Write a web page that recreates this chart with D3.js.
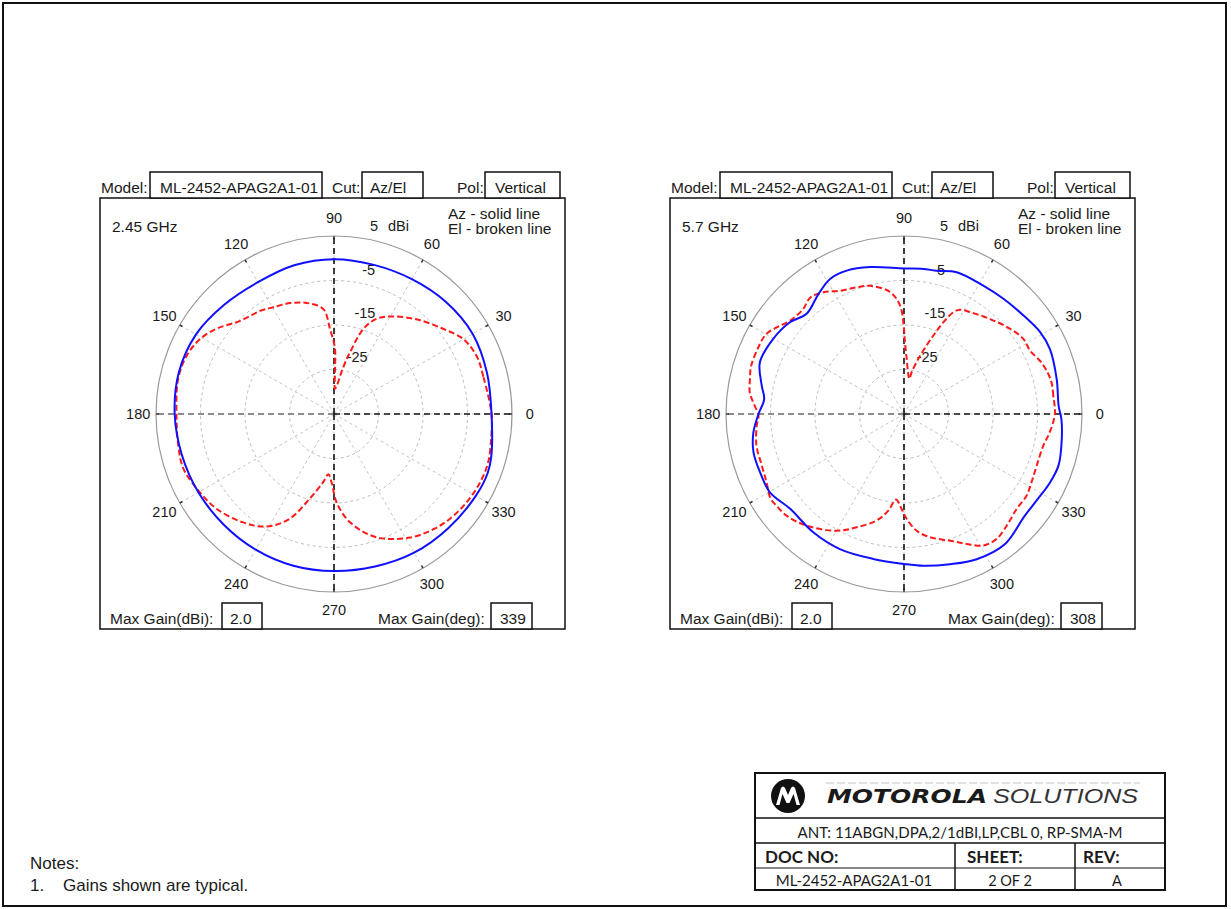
<!DOCTYPE html>
<html>
<head>
<meta charset="utf-8">
<script src="https://cdn.jsdelivr.net/npm/d3@7"></script>
<style>
  body { margin: 0; background: #fff; }
  text { font-family: "Liberation Sans", Arial, sans-serif; fill: #1a1a1a; }
  .calibri { font-family: Lato, "Open Sans", sans-serif; }
</style>
</head>
<body>
<svg id="page" width="1231" height="909"></svg>
<script>
// ---- data ----
const a_angle_ticks = [0, 30, 60, 90, 120, 150, 180, 210, 240, 270, 300, 330];
const a_ring_levels = [-25, -15, -5, 5];

// 2.45 GHz, azimuth (solid)
const a_az_245_deg = [0, 15, 30, 45, 60, 75, 90, 105, 120, 135, 150, 165, 180, 195, 210, 225, 240, 255, 270, 285, 300, 315, 330, 339, 345];
const a_az_245_dbi = [0.4, 0.6, 1.0, 0.6, 0.0, -0.3, -0.2, -0.4, -0.8, -0.2, 0.8, 1.1, 0.8, 0.4, 0.2, 0.1, 0.2, 0.3, 0.3, 0.5, 1.0, 1.3, 1.8, 2.0, 1.6];
// 2.45 GHz, elevation (broken)
const a_el_245_deg = [0, 14, 22, 30, 38, 49, 60, 66, 71, 75.5, 77, 80, 84, 87.8, 88.6, 89.3, 92.7, 95.8, 103.8, 111.6, 119.6, 125.6, 135.2, 144, 150.8, 158.4, 167.3, 180.6, 191.5, 200, 210.3, 219, 230, 239, 247, 254, 261, 264.6, 268, 271.7, 278.4, 289, 301.6, 310.8, 317.8, 326.3, 334.9, 342.6, 352];
const a_el_245_dbi = [0.4, -0.4, -0.4, -1.4, -3.9, -6.8, -9.7, -11.6, -14.8, -20.7, -22.3, -25.5, -28.5, -29.3, -25, -20, -15.9, -11.3, -9.3, -8.2, -7.4, -6.5, -5.3, -2.4, -0.5, 0.6, 0.9, 0.4, 0.7, 1.0, -0.1, -1.1, -3.2, -5.5, -9.4, -15.2, -19.5, -21.4, -19.6, -15.1, -10.4, -5.7, -2.4, -0.8, 0.1, 0.8, 1.25, 1.3, 0.7];

// 5.7 GHz, azimuth (solid)
const a_az_57_deg = [3, 12.9, 24, 31, 39.5, 49.2, 58.3, 69.6, 77.2, 82.4, 90, 103, 111.8, 118.7, 125.5, 134.2, 141.2, 150.1, 160.3, 168.7, 173.9, 180, 187, 194.3, 202, 210.3, 219.8, 232.5, 244.6, 258, 270, 277.3, 287, 296.6, 308, 319.6, 327.4, 334.9, 341.7, 351, 358];
const a_az_57_dbi = [-0.2, 0.2, 0.9, 0.7, -0.2, -0.8, -1.1, -1.0, -2.0, -2.1, -2.3, -1.1, -0.3, -0.4, -1.9, -3.6, -2.1, -1.1, -0.6, -2.4, -3.4, -2.3, -0.9, -0.1, -0.1, -0.1, -1.7, -1.5, -1.4, -1.7, -1.3, -0.6, 0.3, 1.5, 2.0, 0.5, 0.6, 1.25, 1.6, 0.9, 0.4];
// 5.7 GHz, elevation (broken)
const a_el_57_deg = [0, 7, 12.1, 16.9, 21.4, 26.7, 32.1, 38.7, 47.8, 57, 61.8, 64.1, 66.8, 69.6, 74.6, 79.6, 81.4, 87.2, 89.2, 90.2, 92, 96.5, 104.8, 110.5, 117.4, 123.5, 128.9, 133.8, 140.7, 145.8, 150, 155, 162.6, 167.2, 172, 175.6, 180.6, 184.5, 192, 200, 206.5, 212.4, 215.7, 220.9, 228.9, 240, 247.3, 255.6, 260.8, 264.7, 268.6, 271.5, 276.2, 281.9, 290, 295.7, 301, 306.6, 312.6, 319.9, 326.3, 331.8, 338.7, 347.2, 352.8];
const a_el_57_dbi = [-1.1, -1.2, -1.1, -1.5, -2.2, -3.3, -3.3, -4.4, -6.2, -7.7, -8.4, -9.6, -12.6, -16.3, -21.5, -25.4, -27, -22.6, -18.9, -15.2, -10.7, -7.4, -5.2, -4.6, -3.8, -2.2, -1.4, -2.3, -1.9, -0.4, 0.8, 1.0, 1.0, 0.5, 0.0, -1.0, -2.3, -1.8, -1.1, -1.0, -0.5, 0.5, 0.3, -0.1, -1.7, -4.7, -7.4, -10.3, -13, -15.7, -13.6, -11.4, -8.6, -6.7, -4.7, -2.6, -0.5, -0.05, -0.9, -1.9, -1.9, -2.5, -3.0, -2.9, -2.0];

const a_freq_labels = ["2.45 GHz", "5.7 GHz"];
const a_max_gain_dbi = ["2.0", "2.0"];
const a_max_gain_deg = ["339", "308"];

// ---- layout ----
const v_radius = 178;
const d_center = {x: 234, y: 216};      // centre inside the plot frame
const a_frame_x = [100, 670];
const v_frame_y = 198;
const v_frame_w = 465, v_frame_h = 431;
const v_font = 15.5, v_font_num = 14.5;

var svg = d3.select("#page");

// page border
svg.append("rect")
    .attr("x", 3).attr("y", 3)
    .attr("width", 1223).attr("height", 903)
    .attr("fill", "none").attr("stroke", "#111").attr("stroke-width", 2);

// scales
var r_scale = d3.scaleLinear().domain([-35, 5]).range([0, v_radius]);
var a_scale = d3.scaleLinear().domain([0, 360]).range([Math.PI / 2, Math.PI / 2 - 2 * Math.PI]);

var line_polar = d3.lineRadial()
    .angle(function(d) { return a_scale(d[0]); })
    .radius(function(d) { return r_scale(d[1]); })
    .curve(d3.curveCatmullRomClosed.alpha(0.5));

function box(g, x, y, w, h) {
    g.append("rect")
        .attr("x", x).attr("y", y).attr("width", w).attr("height", h)
        .attr("fill", "#fff").attr("stroke", "#111").attr("stroke-width", 1.5);
}

function label(g, x, y, txt, anchor) {
    return g.append("text")
        .attr("x", x).attr("y", y)
        .attr("font-size", v_font)
        .attr("text-anchor", anchor || "start")
        .text(txt);
}

function draw_polar(i, az_deg, az_dbi, el_deg, el_dbi) {
    var x0 = a_frame_x[i];
    var g = svg.append("g").attr("id", "plot_" + i);

    // frame
    g.append("rect")
        .attr("x", x0).attr("y", v_frame_y)
        .attr("width", v_frame_w).attr("height", v_frame_h)
        .attr("fill", "none").attr("stroke", "#111").attr("stroke-width", 1.5);

    // header row
    label(g, x0 + 1, 192.5, "Model:");
    box(g, x0 + 50, 172, 172, 26);
    label(g, x0 + 60, 192.5, "ML-2452-APAG2A1-01");
    label(g, x0 + 232, 192.5, "Cut:");
    box(g, x0 + 262, 172, 61, 26);
    label(g, x0 + 270, 192.5, "Az/El");
    label(g, x0 + 357, 192.5, "Pol:");
    box(g, x0 + 385, 172, 75, 26);
    label(g, x0 + 395, 192.5, "Vertical");

    label(g, x0 + 12, 231.5, a_freq_labels[i]);
    label(g, x0 + 348, 218.5, "Az - solid line");
    label(g, x0 + 348, 233.5, "El - broken line");

    // footer row
    label(g, x0 + 10, 623.5, "Max Gain(dBi):");
    box(g, x0 + 122, 603, 40, 26);
    label(g, x0 + 130, 623.5, a_max_gain_dbi[i]);
    label(g, x0 + 278, 623.5, "Max Gain(deg):");
    box(g, x0 + 391, 603, 41, 26);
    label(g, x0 + 400, 623.5, a_max_gain_deg[i]);

    var p = g.append("g")
        .attr("transform", `translate(${x0 + d_center.x}, ${v_frame_y + d_center.y})`);

    // rings
    p.selectAll(".ring")
        .data(a_ring_levels.slice(0, 3))
        .enter().append("circle")
        .attr("r", function(d) { return r_scale(d); })
        .attr("fill", "none").attr("stroke", "#bdbdbd")
        .attr("stroke-width", 1).attr("stroke-dasharray", "3,3");

    p.append("circle")
        .attr("r", r_scale(5))
        .attr("fill", "none").attr("stroke", "#9a9a9a").attr("stroke-width", 1.2);

    // spokes
    p.selectAll(".spoke")
        .data(a_angle_ticks.filter(function(d) { return d != 180; }))
        .enter().append("line")
        .attr("x1", 0).attr("y1", 0)
        .attr("x2", function(d) { return d3.pointRadial(a_scale(d), v_radius)[0]; })
        .attr("y2", function(d) { return d3.pointRadial(a_scale(d), v_radius)[1]; })
        .attr("stroke", "#c4c4c4").attr("stroke-width", 1).attr("stroke-dasharray", "3,3");

    // 180 spoke is heavier grey
    p.append("line")
        .attr("x1", 0).attr("y1", 0)
        .attr("x2", d3.pointRadial(a_scale(180), v_radius)[0])
        .attr("y2", 0)
        .attr("stroke", "#8c8c8c").attr("stroke-width", 2).attr("stroke-dasharray", "6,4");

    // small ticks on the outer circle
    p.selectAll(".tick")
        .data(a_angle_ticks)
        .enter().append("line")
        .attr("x1", function(d) { return d3.pointRadial(a_scale(d), v_radius - 3)[0]; })
        .attr("y1", function(d) { return d3.pointRadial(a_scale(d), v_radius - 3)[1]; })
        .attr("x2", function(d) { return d3.pointRadial(a_scale(d), v_radius)[0]; })
        .attr("y2", function(d) { return d3.pointRadial(a_scale(d), v_radius)[1]; })
        .attr("stroke", "#333").attr("stroke-width", 1.5);

    // black dashed axes: 0, 90, 270
    [0, 90, 270].forEach(function(d) {
        var pt = d3.pointRadial(a_scale(d), v_radius);
        p.append("line")
            .attr("x1", 0).attr("y1", 0)
            .attr("x2", pt[0]).attr("y2", pt[1])
            .attr("stroke", "#111").attr("stroke-width", 1.6).attr("stroke-dasharray", "6,4");
    });

    // angle labels
    p.selectAll(".alabel")
        .data(a_angle_ticks)
        .enter().append("text")
        .attr("x", function(d) { return d3.pointRadial(a_scale(d), v_radius * 1.1)[0]; })
        .attr("y", function(d) { return d3.pointRadial(a_scale(d), v_radius * 1.1)[1]; })
        .attr("text-anchor", "middle")
        .attr("dominant-baseline", "central")
        .attr("font-size", v_font_num)
        .text(function(d) { return d; });

    // ring labels
    p.selectAll(".rlabel")
        .data(a_ring_levels)
        .enter().append("text")
        .attr("x", function(d) { return d3.pointRadial(a_scale(80), r_scale(d))[0] + 5; })
        .attr("y", function(d) { return d3.pointRadial(a_scale(80), r_scale(d))[1] - 13; })
        .attr("dominant-baseline", "central")
        .attr("font-size", v_font_num)
        .text(function(d) { return d; });
    p.append("text")
        .attr("x", d3.pointRadial(a_scale(80), r_scale(5))[0] + 23)
        .attr("y", d3.pointRadial(a_scale(80), r_scale(5))[1] - 13)
        .attr("dominant-baseline", "central")
        .attr("font-size", v_font_num)
        .text("dBi");

    // patterns
    var az = az_deg.map(function(d, k) { return [d, az_dbi[k]]; });
    var el = el_deg.map(function(d, k) { return [d, el_dbi[k]]; });

    p.append("path")
        .attr("d", line_polar(el))
        .attr("fill", "none").attr("stroke", "#ff1a1a")
        .attr("stroke-width", 2).attr("stroke-dasharray", "6,3");

    p.append("path")
        .attr("d", line_polar(az))
        .attr("fill", "none").attr("stroke", "#1010ff")
        .attr("stroke-width", 2);
}

draw_polar(0, a_az_245_deg, a_az_245_dbi, a_el_245_deg, a_el_245_dbi);
draw_polar(1, a_az_57_deg, a_az_57_dbi, a_el_57_deg, a_el_57_dbi);

// ---- notes ----
svg.append("text").attr("x", 30).attr("y", 869).attr("font-size", 17).text("Notes:");
svg.append("text").attr("x", 30).attr("y", 891).attr("font-size", 17).text("1.");
svg.append("text").attr("x", 63).attr("y", 891).attr("font-size", 17).text("Gains shown are typical.");

// ---- title block ----
var tb = svg.append("g").attr("id", "title_block");
tb.append("rect")
    .attr("x", 755).attr("y", 773).attr("width", 410).attr("height", 117)
    .attr("fill", "none").attr("stroke", "#111").attr("stroke-width", 2);
[818, 843, 868].forEach(function(y) {
    tb.append("line").attr("x1", 755).attr("x2", 1165).attr("y1", y).attr("y2", y)
        .attr("stroke", "#111").attr("stroke-width", y == 868 ? 1 : 1.5);
});
[955, 1075].forEach(function(x) {
    tb.append("line").attr("x1", x).attr("x2", x).attr("y1", 843).attr("y2", 890)
        .attr("stroke", "#111").attr("stroke-width", 1.5);
});

// logo
tb.append("line").attr("x1", 826).attr("x2", 1140).attr("y1", 783).attr("y2", 783)
    .attr("stroke", "#e2e2e2").attr("stroke-width", 2).attr("stroke-dasharray", "8,3");
var logo = tb.append("g").attr("transform", "translate(788,796)");
logo.append("circle").attr("r", 17).attr("fill", "#111");
logo.append("path")
    .attr("d", "M-12,9 L-7,-8 Q-5,-11 -3,-8 L0,-1 L3,-8 Q5,-11 7,-8 L12,9 L8.5,9 L5.5,-2 L1.5,7 L-1.5,7 L-5.5,-2 L-8.5,9 Z")
    .attr("fill", "#fff");
tb.append("text")
    .attr("x", 827).attr("y", 803)
    .attr("font-size", 20).attr("font-weight", "bold").attr("font-style", "italic")
    .attr("textLength", 160).attr("lengthAdjust", "spacingAndGlyphs")
    .style("font-family", "'DejaVu Sans', sans-serif")
    .text("MOTOROLA");
tb.append("text")
    .attr("x", 993).attr("y", 803)
    .attr("font-size", 20).attr("font-style", "italic")
    .attr("textLength", 145).attr("lengthAdjust", "spacingAndGlyphs")
    .style("fill", "#333")
    .text("SOLUTIONS");

tb.append("text").attr("class", "calibri")
    .attr("x", 960).attr("y", 838).attr("text-anchor", "middle")
    .attr("font-size", 15)
    .attr("textLength", 325).attr("lengthAdjust", "spacingAndGlyphs")
    .text("ANT: 11ABGN,DPA,2/1dBI,LP,CBL 0, RP-SMA-M");

tb.append("text").attr("class", "calibri").attr("x", 765).attr("y", 863)
    .attr("font-size", 17).attr("font-weight", "bold").text("DOC NO:");
tb.append("text").attr("class", "calibri").attr("x", 967).attr("y", 863)
    .attr("font-size", 17).attr("font-weight", "bold").text("SHEET:");
tb.append("text").attr("class", "calibri").attr("x", 1083).attr("y", 863)
    .attr("font-size", 17).attr("font-weight", "bold").text("REV:");
tb.append("text").attr("class", "calibri").attr("x", 854).attr("y", 886)
    .attr("font-size", 15).attr("text-anchor", "middle").text("ML-2452-APAG2A1-01");
tb.append("text").attr("class", "calibri").attr("x", 1010).attr("y", 886)
    .attr("font-size", 14.5).attr("text-anchor", "middle").text("2 OF 2");
tb.append("text").attr("class", "calibri").attr("x", 1117).attr("y", 886)
    .attr("font-size", 14.5).attr("text-anchor", "middle").text("A");
</script>
</body>
</html>
